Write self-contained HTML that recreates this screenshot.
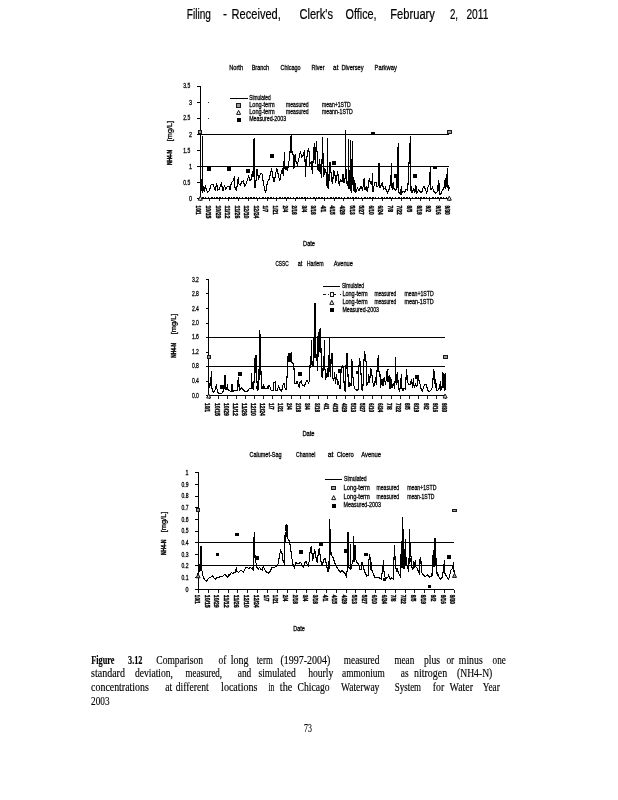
<!DOCTYPE html><html><head><meta charset="utf-8"><title>Figure 3.12</title>
<style>html,body{margin:0;padding:0;background:#fff}svg{display:block}text{font-family:"Liberation Sans",sans-serif;fill:#000}.c text{stroke:#000;stroke-width:0.28px}.c line,.c polyline,.c rect,.c path{shape-rendering:crispEdges}.s{font-family:"Liberation Serif",serif;stroke:#000;stroke-width:0.15px}</style></head><body>
<svg width="618" height="800" viewBox="0 0 618 800">
<rect width="618" height="800" fill="#fff"/>
<text x="186.8" y="19.1" font-size="14" textLength="24.1" lengthAdjust="spacingAndGlyphs" stroke="#000" stroke-width="0.2">Filing</text>
<text x="223.0" y="19.1" font-size="14" textLength="4.0" lengthAdjust="spacingAndGlyphs" stroke="#000" stroke-width="0.2">-</text>
<text x="231.6" y="19.1" font-size="14" textLength="49.2" lengthAdjust="spacingAndGlyphs" stroke="#000" stroke-width="0.2">Received,</text>
<text x="299.5" y="19.1" font-size="14" textLength="33.5" lengthAdjust="spacingAndGlyphs" stroke="#000" stroke-width="0.2">Clerk's</text>
<text x="345.5" y="19.1" font-size="14" textLength="31.1" lengthAdjust="spacingAndGlyphs" stroke="#000" stroke-width="0.2">Office,</text>
<text x="390.3" y="19.1" font-size="14" textLength="44.6" lengthAdjust="spacingAndGlyphs" stroke="#000" stroke-width="0.2">February</text>
<text x="449.9" y="19.1" font-size="14" textLength="8.1" lengthAdjust="spacingAndGlyphs" stroke="#000" stroke-width="0.2">2,</text>
<text x="466.4" y="19.1" font-size="14" textLength="22.0" lengthAdjust="spacingAndGlyphs" stroke="#000" stroke-width="0.2">2011</text>
<g class="c">
<text x="229.2" y="70.2" font-size="7.0" textLength="13.9" lengthAdjust="spacingAndGlyphs">North</text>
<text x="251.7" y="70.2" font-size="7.0" textLength="17.5" lengthAdjust="spacingAndGlyphs">Branch</text>
<text x="280.6" y="70.2" font-size="7.0" textLength="20.0" lengthAdjust="spacingAndGlyphs">Chicago</text>
<text x="311.6" y="70.2" font-size="7.0" textLength="12.9" lengthAdjust="spacingAndGlyphs">River</text>
<text x="333.1" y="70.2" font-size="7.0" textLength="5.3" lengthAdjust="spacingAndGlyphs">at</text>
<text x="341.4" y="70.2" font-size="7.0" textLength="22.2" lengthAdjust="spacingAndGlyphs">Diversey</text>
<text x="374.6" y="70.2" font-size="7.0" textLength="22.2" lengthAdjust="spacingAndGlyphs">Parkway</text>
<line x1="229.8" y1="98.5" x2="247.7" y2="98.5" stroke="#000" stroke-width="1"/>
<text x="249.2" y="100.0" font-size="7.0" textLength="21.5" lengthAdjust="spacingAndGlyphs">Simulated</text>
<text x="249.2" y="106.8" font-size="7.0" textLength="25.5" lengthAdjust="spacingAndGlyphs">Long-term</text>
<text x="286.1" y="106.8" font-size="7.0" textLength="22.4" lengthAdjust="spacingAndGlyphs">measured</text>
<text x="322.0" y="106.8" font-size="7.0" textLength="28.7" lengthAdjust="spacingAndGlyphs">mean+1STD</text>
<text x="249.2" y="114.0" font-size="7.0" textLength="25.5" lengthAdjust="spacingAndGlyphs">Long-term</text>
<text x="286.1" y="114.0" font-size="7.0" textLength="22.4" lengthAdjust="spacingAndGlyphs">measured</text>
<text x="322.0" y="114.0" font-size="7.0" textLength="30.8" lengthAdjust="spacingAndGlyphs">meann-1STD</text>
<text x="249.2" y="121.2" font-size="7.0" textLength="36.9" lengthAdjust="spacingAndGlyphs">Measured-2003</text>
<rect x="236" y="103" width="5" height="5" fill="#1a1a1a"/>
<rect x="237" y="104" width="3" height="3" fill="#9a9a9a"/>
<path d="M238.6 110.4L240.6 114.4H236.6Z" fill="#fff" stroke="#111" stroke-width="1" style="shape-rendering:auto"/>
<rect x="237" y="118" width="4" height="4" fill="#000"/>
<rect x="208" y="102" width="1" height="1" fill="#333"/><rect x="208" y="118" width="1" height="1" fill="#333"/>
<line x1="200.5" y1="86.3" x2="200.5" y2="198.4" stroke="#000" stroke-width="1"/>
<line x1="200.5" y1="198.4" x2="449.3" y2="198.4" stroke="#000" stroke-width="1"/>
<line x1="200.5" y1="134.4" x2="449.3" y2="134.4" stroke="#000" stroke-width="1"/>
<line x1="200.5" y1="166.5" x2="449.3" y2="166.5" stroke="#000" stroke-width="1"/>
<line x1="197.3" y1="86.3" x2="200.5" y2="86.3" stroke="#000" stroke-width="1"/>
<text x="183.2" y="88.4" font-size="6.8" textLength="7.0" lengthAdjust="spacingAndGlyphs">3.5</text>
<line x1="197.3" y1="102.3" x2="200.5" y2="102.3" stroke="#000" stroke-width="1"/>
<text x="189.1" y="105.1" font-size="6.8" textLength="3.0" lengthAdjust="spacingAndGlyphs">3</text>
<line x1="197.3" y1="118.3" x2="200.5" y2="118.3" stroke="#000" stroke-width="1"/>
<text x="183.2" y="120.4" font-size="6.8" textLength="7.0" lengthAdjust="spacingAndGlyphs">2.5</text>
<line x1="197.3" y1="134.4" x2="200.5" y2="134.4" stroke="#000" stroke-width="1"/>
<text x="189.1" y="137.2" font-size="6.8" textLength="3.0" lengthAdjust="spacingAndGlyphs">2</text>
<line x1="197.3" y1="150.4" x2="200.5" y2="150.4" stroke="#000" stroke-width="1"/>
<text x="183.2" y="152.5" font-size="6.8" textLength="7.0" lengthAdjust="spacingAndGlyphs">1.5</text>
<line x1="197.3" y1="166.5" x2="200.5" y2="166.5" stroke="#000" stroke-width="1"/>
<text x="189.1" y="169.3" font-size="6.8" textLength="3.0" lengthAdjust="spacingAndGlyphs">1</text>
<line x1="197.3" y1="182.4" x2="200.5" y2="182.4" stroke="#000" stroke-width="1"/>
<text x="183.2" y="184.5" font-size="6.8" textLength="7.0" lengthAdjust="spacingAndGlyphs">0.5</text>
<line x1="197.3" y1="198.4" x2="200.5" y2="198.4" stroke="#000" stroke-width="1"/>
<text x="189.1" y="201.2" font-size="6.8" textLength="3.0" lengthAdjust="spacingAndGlyphs">0</text>
<line x1="200.2" y1="198.4" x2="200.2" y2="201.4" stroke="#000" stroke-width="0.9"/>
<text transform="translate(196.4,205.5) rotate(90)" font-size="7.8" style="stroke-width:0.4px" textLength="9.2" lengthAdjust="spacingAndGlyphs" font-weight="bold">10/1</text>
<line x1="209.8" y1="198.4" x2="209.8" y2="201.4" stroke="#000" stroke-width="0.9"/>
<text transform="translate(206.0,205.5) rotate(90)" font-size="7.8" style="stroke-width:0.4px" textLength="12.9" lengthAdjust="spacingAndGlyphs" font-weight="bold">10/15</text>
<line x1="219.3" y1="198.4" x2="219.3" y2="201.4" stroke="#000" stroke-width="0.9"/>
<text transform="translate(215.5,205.5) rotate(90)" font-size="7.8" style="stroke-width:0.4px" textLength="12.9" lengthAdjust="spacingAndGlyphs" font-weight="bold">10/29</text>
<line x1="228.9" y1="198.4" x2="228.9" y2="201.4" stroke="#000" stroke-width="0.9"/>
<text transform="translate(225.1,205.5) rotate(90)" font-size="7.8" style="stroke-width:0.4px" textLength="12.9" lengthAdjust="spacingAndGlyphs" font-weight="bold">11/12</text>
<line x1="238.5" y1="198.4" x2="238.5" y2="201.4" stroke="#000" stroke-width="0.9"/>
<text transform="translate(234.7,205.5) rotate(90)" font-size="7.8" style="stroke-width:0.4px" textLength="12.9" lengthAdjust="spacingAndGlyphs" font-weight="bold">11/26</text>
<line x1="248.0" y1="198.4" x2="248.0" y2="201.4" stroke="#000" stroke-width="0.9"/>
<text transform="translate(244.2,205.5) rotate(90)" font-size="7.8" style="stroke-width:0.4px" textLength="12.9" lengthAdjust="spacingAndGlyphs" font-weight="bold">12/10</text>
<line x1="257.6" y1="198.4" x2="257.6" y2="201.4" stroke="#000" stroke-width="0.9"/>
<text transform="translate(253.8,205.5) rotate(90)" font-size="7.8" style="stroke-width:0.4px" textLength="12.9" lengthAdjust="spacingAndGlyphs" font-weight="bold">12/24</text>
<line x1="267.2" y1="198.4" x2="267.2" y2="201.4" stroke="#000" stroke-width="0.9"/>
<text transform="translate(263.4,205.5) rotate(90)" font-size="7.8" style="stroke-width:0.4px" textLength="6.6" lengthAdjust="spacingAndGlyphs" font-weight="bold">1/7</text>
<line x1="276.8" y1="198.4" x2="276.8" y2="201.4" stroke="#000" stroke-width="0.9"/>
<text transform="translate(273.0,205.5) rotate(90)" font-size="7.8" style="stroke-width:0.4px" textLength="9.2" lengthAdjust="spacingAndGlyphs" font-weight="bold">1/21</text>
<line x1="286.3" y1="198.4" x2="286.3" y2="201.4" stroke="#000" stroke-width="0.9"/>
<text transform="translate(282.5,205.5) rotate(90)" font-size="7.8" style="stroke-width:0.4px" textLength="6.6" lengthAdjust="spacingAndGlyphs" font-weight="bold">2/4</text>
<line x1="295.9" y1="198.4" x2="295.9" y2="201.4" stroke="#000" stroke-width="0.9"/>
<text transform="translate(292.1,205.5) rotate(90)" font-size="7.8" style="stroke-width:0.4px" textLength="9.2" lengthAdjust="spacingAndGlyphs" font-weight="bold">2/18</text>
<line x1="305.5" y1="198.4" x2="305.5" y2="201.4" stroke="#000" stroke-width="0.9"/>
<text transform="translate(301.7,205.5) rotate(90)" font-size="7.8" style="stroke-width:0.4px" textLength="6.6" lengthAdjust="spacingAndGlyphs" font-weight="bold">3/4</text>
<line x1="315.0" y1="198.4" x2="315.0" y2="201.4" stroke="#000" stroke-width="0.9"/>
<text transform="translate(311.2,205.5) rotate(90)" font-size="7.8" style="stroke-width:0.4px" textLength="9.2" lengthAdjust="spacingAndGlyphs" font-weight="bold">3/18</text>
<line x1="324.6" y1="198.4" x2="324.6" y2="201.4" stroke="#000" stroke-width="0.9"/>
<text transform="translate(320.8,205.5) rotate(90)" font-size="7.8" style="stroke-width:0.4px" textLength="6.6" lengthAdjust="spacingAndGlyphs" font-weight="bold">4/1</text>
<line x1="334.2" y1="198.4" x2="334.2" y2="201.4" stroke="#000" stroke-width="0.9"/>
<text transform="translate(330.4,205.5) rotate(90)" font-size="7.8" style="stroke-width:0.4px" textLength="9.2" lengthAdjust="spacingAndGlyphs" font-weight="bold">4/15</text>
<line x1="343.7" y1="198.4" x2="343.7" y2="201.4" stroke="#000" stroke-width="0.9"/>
<text transform="translate(339.9,205.5) rotate(90)" font-size="7.8" style="stroke-width:0.4px" textLength="9.2" lengthAdjust="spacingAndGlyphs" font-weight="bold">4/29</text>
<line x1="353.3" y1="198.4" x2="353.3" y2="201.4" stroke="#000" stroke-width="0.9"/>
<text transform="translate(349.5,205.5) rotate(90)" font-size="7.8" style="stroke-width:0.4px" textLength="9.2" lengthAdjust="spacingAndGlyphs" font-weight="bold">5/13</text>
<line x1="362.9" y1="198.4" x2="362.9" y2="201.4" stroke="#000" stroke-width="0.9"/>
<text transform="translate(359.1,205.5) rotate(90)" font-size="7.8" style="stroke-width:0.4px" textLength="9.2" lengthAdjust="spacingAndGlyphs" font-weight="bold">5/27</text>
<line x1="372.4" y1="198.4" x2="372.4" y2="201.4" stroke="#000" stroke-width="0.9"/>
<text transform="translate(368.6,205.5) rotate(90)" font-size="7.8" style="stroke-width:0.4px" textLength="9.2" lengthAdjust="spacingAndGlyphs" font-weight="bold">6/10</text>
<line x1="382.0" y1="198.4" x2="382.0" y2="201.4" stroke="#000" stroke-width="0.9"/>
<text transform="translate(378.2,205.5) rotate(90)" font-size="7.8" style="stroke-width:0.4px" textLength="9.2" lengthAdjust="spacingAndGlyphs" font-weight="bold">6/24</text>
<line x1="391.6" y1="198.4" x2="391.6" y2="201.4" stroke="#000" stroke-width="0.9"/>
<text transform="translate(387.8,205.5) rotate(90)" font-size="7.8" style="stroke-width:0.4px" textLength="6.6" lengthAdjust="spacingAndGlyphs" font-weight="bold">7/8</text>
<line x1="401.2" y1="198.4" x2="401.2" y2="201.4" stroke="#000" stroke-width="0.9"/>
<text transform="translate(397.4,205.5) rotate(90)" font-size="7.8" style="stroke-width:0.4px" textLength="9.2" lengthAdjust="spacingAndGlyphs" font-weight="bold">7/22</text>
<line x1="410.7" y1="198.4" x2="410.7" y2="201.4" stroke="#000" stroke-width="0.9"/>
<text transform="translate(406.9,205.5) rotate(90)" font-size="7.8" style="stroke-width:0.4px" textLength="6.6" lengthAdjust="spacingAndGlyphs" font-weight="bold">8/5</text>
<line x1="420.3" y1="198.4" x2="420.3" y2="201.4" stroke="#000" stroke-width="0.9"/>
<text transform="translate(416.5,205.5) rotate(90)" font-size="7.8" style="stroke-width:0.4px" textLength="9.2" lengthAdjust="spacingAndGlyphs" font-weight="bold">8/19</text>
<line x1="429.9" y1="198.4" x2="429.9" y2="201.4" stroke="#000" stroke-width="0.9"/>
<text transform="translate(426.1,205.5) rotate(90)" font-size="7.8" style="stroke-width:0.4px" textLength="6.6" lengthAdjust="spacingAndGlyphs" font-weight="bold">9/2</text>
<line x1="439.4" y1="198.4" x2="439.4" y2="201.4" stroke="#000" stroke-width="0.9"/>
<text transform="translate(435.6,205.5) rotate(90)" font-size="7.8" style="stroke-width:0.4px" textLength="9.2" lengthAdjust="spacingAndGlyphs" font-weight="bold">9/16</text>
<line x1="449.0" y1="198.4" x2="449.0" y2="201.4" stroke="#000" stroke-width="0.9"/>
<text transform="translate(445.2,205.5) rotate(90)" font-size="7.8" style="stroke-width:0.4px" textLength="9.2" lengthAdjust="spacingAndGlyphs" font-weight="bold">9/30</text>
<polyline points="200.3,190.1 200.7,190.1 201.2,178.7 202.0,191.2 202.3,190.1 202.4,136.3 202.5,192.2 202.8,192.2 203.8,186.0 204.3,192.2 205.3,185.0 206.4,190.1 207.9,192.2 209.5,190.7 211.0,185.0 213.1,184.4 215.2,190.1 216.7,183.4 217.7,190.1 219.3,189.1 221.4,183.4 223.1,191.2 224.5,185.0 225.5,189.1 227.1,187.0 229.1,186.5 230.2,190.1 231.2,182.9 233.3,180.8 234.5,176.2 234.8,187.0 236.4,191.2 238.3,177.2 238.7,183.9 240.5,185.0 241.6,181.9 243.1,180.8 244.7,186.0 246.2,183.9 247.8,178.7 248.8,175.6 249.3,180.8 250.9,179.8 252.4,173.0 253.0,176.7 253.5,139.4 254.5,138.4 255.0,187.5 256.0,180.8 257.0,169.4 258.6,178.7 260.7,173.6 262.2,174.1 263.2,181.9 264.8,190.1 265.8,192.2 267.4,181.9 268.9,179.8 270.5,173.6 271.5,168.4 272.6,175.6 274.1,182.4 275.7,173.6 276.7,168.4 278.3,174.6 279.8,181.3 281.4,171.5 282.4,169.4 283.4,175.6 284.5,152.3 285.0,169.4 286.0,166.3 287.6,171.0 288.6,162.2 289.7,158.6 290.7,137.3 291.5,134.7 292.0,152.9 293.3,154.9 293.8,169.4 295.1,154.4 295.9,161.1 297.4,164.2 299.0,158.0 300.5,151.3 301.6,157.0 303.1,155.4 304.7,150.3 305.5,176.7 306.2,162.2 307.8,150.8 308.6,148.2 309.3,153.9 309.9,164.2 311.4,162.2 312.4,173.6 313.5,152.3 314.5,143.5 315.2,164.2 316.4,140.9 317.1,152.9 318.1,170.5 319.7,159.1 319.1,171.5 319.6,159.1 320.7,172.5 321.7,177.7 322.5,137.3 323.2,160.1 323.8,176.7 324.8,168.4 326.4,173.6 327.2,188.1 327.4,138.4 328.2,188.6 328.9,181.9 329.8,162.2 330.5,163.7 331.5,180.8 332.6,183.4 333.6,170.5 334.6,171.5 335.7,182.9 337.7,171.5 338.3,177.7 339.3,186.0 340.3,179.8 341.9,181.9 343.1,173.6 344.0,182.9 345.0,178.7 345.4,178.7 345.5,130.1 345.7,169.4 346.6,169.4 347.1,185.0 347.9,185.5 348.2,186.0 348.4,139.4 348.6,188.1 349.1,188.6 350.0,188.6 350.2,140.4 350.4,190.1 351.0,191.2 351.4,159.1 351.8,191.2 352.1,159.1 352.2,141.5 352.5,159.1 352.8,177.7 353.3,191.2 353.8,176.7 354.3,191.7 354.8,179.8 355.4,192.2 355.9,192.2 357.4,188.1 359.0,190.7 361.0,186.5 362.6,190.1 364.2,178.2 364.7,190.1 366.2,187.0 367.3,192.2 369.3,178.2 370.4,182.9 371.9,184.4 372.4,173.0 373.0,192.2 374.5,182.9 376.1,182.4 377.1,187.0 378.1,186.0 378.7,163.7 379.4,163.7 378.6,163.7 379.4,163.7 379.9,188.1 381.2,185.0 382.2,183.4 383.8,189.1 385.3,187.5 386.4,190.7 387.4,192.7 388.9,190.1 390.0,185.5 391.0,176.7 391.5,163.2 392.1,190.1 393.1,182.4 394.1,189.1 395.7,190.1 397.0,188.1 397.3,147.2 397.7,179.8 398.3,143.0 398.6,192.2 400.3,194.3 401.4,186.5 401.9,193.2 403.4,191.2 404.5,192.2 406.0,189.6 407.6,190.1 408.6,175.6 409.3,154.4 410.5,136.3 411.0,191.2 412.2,192.7 413.8,188.6 414.8,192.7 415.9,185.5 416.9,192.7 418.5,190.1 420.0,191.7 421.6,192.7 423.1,187.5 424.2,186.5 425.7,190.1 426.7,192.7 428.3,186.0 429.3,184.4 430.4,166.8 430.9,190.1 432.4,187.0 434.0,191.7 435.5,193.2 437.6,191.7 438.4,180.3 439.2,193.2 438.3,180.3 439.1,183.9 439.9,194.3 441.2,193.8 442.2,190.1 443.8,189.1 444.8,179.8 445.3,189.1 445.8,177.7 446.4,187.0 446.9,176.7 447.4,167.9 447.9,186.0 448.4,191.2 448.9,186.5 450.0,189.1" fill="none" stroke="#000" stroke-width="1.10" stroke-linejoin="miter"/>
<rect x="207" y="167" width="4" height="4" fill="#000"/>
<rect x="227" y="167" width="4" height="4" fill="#000"/>
<rect x="246" y="169" width="4" height="4" fill="#000"/>
<rect x="270" y="154" width="4" height="4" fill="#000"/>
<rect x="332" y="161" width="4" height="4" fill="#000"/>
<rect x="394" y="174" width="4" height="4" fill="#000"/>
<rect x="413" y="174" width="4" height="4" fill="#000"/>
<rect x="371" y="132" width="4" height="3" fill="#000"/>
<rect x="433" y="166" width="4" height="3" fill="#000"/>
<rect x="198" y="130" width="4" height="4" fill="#1a1a1a"/>
<rect x="199" y="131" width="2" height="2" fill="#9a9a9a"/>
<rect x="447" y="130" width="5" height="4" fill="#1a1a1a"/>
<rect x="448" y="131" width="3" height="2" fill="#9a9a9a"/>
<path d="M200.3 196.2L202.3 200.2H198.3Z" fill="#fff" stroke="#111" stroke-width="1" style="shape-rendering:auto"/>
<path d="M449.3 196.2L451.3 200.2H447.3Z" fill="#fff" stroke="#111" stroke-width="1" style="shape-rendering:auto"/>
<text x="303.1" y="246.0" font-size="7.0" textLength="11.9" lengthAdjust="spacingAndGlyphs">Date</text>
<text transform="translate(172.2,165.1) rotate(-90)" font-size="7.6" font-weight="bold" style="stroke-width:0.45px" textLength="15.2" lengthAdjust="spacingAndGlyphs">NH4-N</text>
<text transform="translate(172.2,141.2) rotate(-90)" font-size="7.6" textLength="20.3" lengthAdjust="spacingAndGlyphs">[mg/L]</text>
<line x1="202" y1="197.5" x2="449" y2="197.5" stroke="#000" stroke-width="1" stroke-dasharray="2.4 1 1 1.2 1.6 1.3"/>
<text x="275.4" y="265.5" font-size="7.0" textLength="13.2" lengthAdjust="spacingAndGlyphs">CSSC</text>
<text x="297.8" y="265.5" font-size="7.0" textLength="4.6" lengthAdjust="spacingAndGlyphs">at</text>
<text x="306.7" y="265.5" font-size="7.0" textLength="16.9" lengthAdjust="spacingAndGlyphs">Harlem</text>
<text x="333.8" y="265.5" font-size="7.0" textLength="19.0" lengthAdjust="spacingAndGlyphs">Avenue</text>
<line x1="323" y1="286.5" x2="339.9" y2="286.5" stroke="#000" stroke-width="1"/>
<text x="341.9" y="287.9" font-size="7.0" textLength="22.2" lengthAdjust="spacingAndGlyphs">Simulated</text>
<text x="342.4" y="295.5" font-size="7.0" textLength="25.2" lengthAdjust="spacingAndGlyphs">Long-term</text>
<text x="374.4" y="295.5" font-size="7.0" textLength="21.8" lengthAdjust="spacingAndGlyphs">measured</text>
<text x="404.5" y="295.5" font-size="7.0" textLength="29.2" lengthAdjust="spacingAndGlyphs">mean+1STD</text>
<text x="342.4" y="303.9" font-size="7.0" textLength="25.2" lengthAdjust="spacingAndGlyphs">Long-term</text>
<text x="374.4" y="303.9" font-size="7.0" textLength="21.8" lengthAdjust="spacingAndGlyphs">measured</text>
<text x="404.5" y="303.9" font-size="7.0" textLength="29.2" lengthAdjust="spacingAndGlyphs">mean-1STD</text>
<text x="342.4" y="311.5" font-size="7.0" textLength="36.6" lengthAdjust="spacingAndGlyphs">Measured-2003</text>
<path d="M323 294.5h2.6M328 294.5h1M334 294.5h2.2M340 294.5h1" stroke="#000" stroke-width="0.9"/>
<rect x="330" y="292" width="4" height="5" fill="#1a1a1a"/>
<rect x="331" y="293" width="2" height="3" fill="#fff"/>
<path d="M331.8 300.4L333.8 304.4H329.8Z" fill="#fff" stroke="#111" stroke-width="1" style="shape-rendering:auto"/>
<rect x="330" y="308" width="4" height="4" fill="#000"/>
<line x1="208.5" y1="279.4" x2="208.5" y2="395.6" stroke="#000" stroke-width="1"/>
<line x1="208.5" y1="395.6" x2="444.8" y2="395.6" stroke="#000" stroke-width="1"/>
<line x1="208.5" y1="337.3" x2="444.8" y2="337.3" stroke="#000" stroke-width="1"/>
<line x1="208.5" y1="366.3" x2="444.8" y2="366.3" stroke="#000" stroke-width="1"/>
<line x1="205.5" y1="279.4" x2="208.5" y2="279.4" stroke="#000" stroke-width="1"/>
<text x="191.9" y="281.5" font-size="6.8" textLength="7.0" lengthAdjust="spacingAndGlyphs">3.2</text>
<line x1="205.5" y1="293.9" x2="208.5" y2="293.9" stroke="#000" stroke-width="1"/>
<text x="191.9" y="296.0" font-size="6.8" textLength="7.0" lengthAdjust="spacingAndGlyphs">2.8</text>
<line x1="205.5" y1="308.4" x2="208.5" y2="308.4" stroke="#000" stroke-width="1"/>
<text x="191.9" y="310.6" font-size="6.8" textLength="7.0" lengthAdjust="spacingAndGlyphs">2.4</text>
<line x1="205.5" y1="323.0" x2="208.5" y2="323.0" stroke="#000" stroke-width="1"/>
<text x="191.9" y="325.1" font-size="6.8" textLength="7.0" lengthAdjust="spacingAndGlyphs">2.0</text>
<line x1="205.5" y1="337.3" x2="208.5" y2="337.3" stroke="#000" stroke-width="1"/>
<text x="191.9" y="339.4" font-size="6.8" textLength="7.0" lengthAdjust="spacingAndGlyphs">1.6</text>
<line x1="205.5" y1="352.0" x2="208.5" y2="352.0" stroke="#000" stroke-width="1"/>
<text x="191.9" y="354.1" font-size="6.8" textLength="7.0" lengthAdjust="spacingAndGlyphs">1.2</text>
<line x1="205.5" y1="366.3" x2="208.5" y2="366.3" stroke="#000" stroke-width="1"/>
<text x="191.9" y="368.4" font-size="6.8" textLength="7.0" lengthAdjust="spacingAndGlyphs">0.8</text>
<line x1="205.5" y1="381.1" x2="208.5" y2="381.1" stroke="#000" stroke-width="1"/>
<text x="191.9" y="383.2" font-size="6.8" textLength="7.0" lengthAdjust="spacingAndGlyphs">0.4</text>
<line x1="205.5" y1="395.6" x2="208.5" y2="395.6" stroke="#000" stroke-width="1"/>
<text x="191.9" y="397.7" font-size="6.8" textLength="7.0" lengthAdjust="spacingAndGlyphs">0.0</text>
<line x1="209.2" y1="395.6" x2="209.2" y2="398.6" stroke="#000" stroke-width="0.9"/>
<text transform="translate(205.4,403.0) rotate(90)" font-size="7.8" style="stroke-width:0.4px" textLength="9.2" lengthAdjust="spacingAndGlyphs" font-weight="bold">10/1</text>
<line x1="218.3" y1="395.6" x2="218.3" y2="398.6" stroke="#000" stroke-width="0.9"/>
<text transform="translate(214.5,403.0) rotate(90)" font-size="7.8" style="stroke-width:0.4px" textLength="12.9" lengthAdjust="spacingAndGlyphs" font-weight="bold">10/15</text>
<line x1="227.4" y1="395.6" x2="227.4" y2="398.6" stroke="#000" stroke-width="0.9"/>
<text transform="translate(223.6,403.0) rotate(90)" font-size="7.8" style="stroke-width:0.4px" textLength="12.9" lengthAdjust="spacingAndGlyphs" font-weight="bold">10/29</text>
<line x1="236.5" y1="395.6" x2="236.5" y2="398.6" stroke="#000" stroke-width="0.9"/>
<text transform="translate(232.7,403.0) rotate(90)" font-size="7.8" style="stroke-width:0.4px" textLength="12.9" lengthAdjust="spacingAndGlyphs" font-weight="bold">11/12</text>
<line x1="245.6" y1="395.6" x2="245.6" y2="398.6" stroke="#000" stroke-width="0.9"/>
<text transform="translate(241.8,403.0) rotate(90)" font-size="7.8" style="stroke-width:0.4px" textLength="12.9" lengthAdjust="spacingAndGlyphs" font-weight="bold">11/26</text>
<line x1="254.6" y1="395.6" x2="254.6" y2="398.6" stroke="#000" stroke-width="0.9"/>
<text transform="translate(250.8,403.0) rotate(90)" font-size="7.8" style="stroke-width:0.4px" textLength="12.9" lengthAdjust="spacingAndGlyphs" font-weight="bold">12/10</text>
<line x1="263.7" y1="395.6" x2="263.7" y2="398.6" stroke="#000" stroke-width="0.9"/>
<text transform="translate(259.9,403.0) rotate(90)" font-size="7.8" style="stroke-width:0.4px" textLength="12.9" lengthAdjust="spacingAndGlyphs" font-weight="bold">12/24</text>
<line x1="272.8" y1="395.6" x2="272.8" y2="398.6" stroke="#000" stroke-width="0.9"/>
<text transform="translate(269.0,403.0) rotate(90)" font-size="7.8" style="stroke-width:0.4px" textLength="6.6" lengthAdjust="spacingAndGlyphs" font-weight="bold">1/7</text>
<line x1="281.9" y1="395.6" x2="281.9" y2="398.6" stroke="#000" stroke-width="0.9"/>
<text transform="translate(278.1,403.0) rotate(90)" font-size="7.8" style="stroke-width:0.4px" textLength="9.2" lengthAdjust="spacingAndGlyphs" font-weight="bold">1/21</text>
<line x1="291.0" y1="395.6" x2="291.0" y2="398.6" stroke="#000" stroke-width="0.9"/>
<text transform="translate(287.2,403.0) rotate(90)" font-size="7.8" style="stroke-width:0.4px" textLength="6.6" lengthAdjust="spacingAndGlyphs" font-weight="bold">2/4</text>
<line x1="300.1" y1="395.6" x2="300.1" y2="398.6" stroke="#000" stroke-width="0.9"/>
<text transform="translate(296.3,403.0) rotate(90)" font-size="7.8" style="stroke-width:0.4px" textLength="9.2" lengthAdjust="spacingAndGlyphs" font-weight="bold">2/18</text>
<line x1="309.2" y1="395.6" x2="309.2" y2="398.6" stroke="#000" stroke-width="0.9"/>
<text transform="translate(305.4,403.0) rotate(90)" font-size="7.8" style="stroke-width:0.4px" textLength="6.6" lengthAdjust="spacingAndGlyphs" font-weight="bold">3/4</text>
<line x1="318.3" y1="395.6" x2="318.3" y2="398.6" stroke="#000" stroke-width="0.9"/>
<text transform="translate(314.5,403.0) rotate(90)" font-size="7.8" style="stroke-width:0.4px" textLength="9.2" lengthAdjust="spacingAndGlyphs" font-weight="bold">3/18</text>
<line x1="327.3" y1="395.6" x2="327.3" y2="398.6" stroke="#000" stroke-width="0.9"/>
<text transform="translate(323.5,403.0) rotate(90)" font-size="7.8" style="stroke-width:0.4px" textLength="6.6" lengthAdjust="spacingAndGlyphs" font-weight="bold">4/1</text>
<line x1="336.4" y1="395.6" x2="336.4" y2="398.6" stroke="#000" stroke-width="0.9"/>
<text transform="translate(332.6,403.0) rotate(90)" font-size="7.8" style="stroke-width:0.4px" textLength="9.2" lengthAdjust="spacingAndGlyphs" font-weight="bold">4/15</text>
<line x1="345.5" y1="395.6" x2="345.5" y2="398.6" stroke="#000" stroke-width="0.9"/>
<text transform="translate(341.7,403.0) rotate(90)" font-size="7.8" style="stroke-width:0.4px" textLength="9.2" lengthAdjust="spacingAndGlyphs" font-weight="bold">4/29</text>
<line x1="354.6" y1="395.6" x2="354.6" y2="398.6" stroke="#000" stroke-width="0.9"/>
<text transform="translate(350.8,403.0) rotate(90)" font-size="7.8" style="stroke-width:0.4px" textLength="9.2" lengthAdjust="spacingAndGlyphs" font-weight="bold">5/13</text>
<line x1="363.7" y1="395.6" x2="363.7" y2="398.6" stroke="#000" stroke-width="0.9"/>
<text transform="translate(359.9,403.0) rotate(90)" font-size="7.8" style="stroke-width:0.4px" textLength="9.2" lengthAdjust="spacingAndGlyphs" font-weight="bold">5/27</text>
<line x1="372.8" y1="395.6" x2="372.8" y2="398.6" stroke="#000" stroke-width="0.9"/>
<text transform="translate(369.0,403.0) rotate(90)" font-size="7.8" style="stroke-width:0.4px" textLength="9.2" lengthAdjust="spacingAndGlyphs" font-weight="bold">6/10</text>
<line x1="381.9" y1="395.6" x2="381.9" y2="398.6" stroke="#000" stroke-width="0.9"/>
<text transform="translate(378.1,403.0) rotate(90)" font-size="7.8" style="stroke-width:0.4px" textLength="9.2" lengthAdjust="spacingAndGlyphs" font-weight="bold">6/24</text>
<line x1="391.0" y1="395.6" x2="391.0" y2="398.6" stroke="#000" stroke-width="0.9"/>
<text transform="translate(387.2,403.0) rotate(90)" font-size="7.8" style="stroke-width:0.4px" textLength="6.6" lengthAdjust="spacingAndGlyphs" font-weight="bold">7/8</text>
<line x1="400.1" y1="395.6" x2="400.1" y2="398.6" stroke="#000" stroke-width="0.9"/>
<text transform="translate(396.3,403.0) rotate(90)" font-size="7.8" style="stroke-width:0.4px" textLength="9.2" lengthAdjust="spacingAndGlyphs" font-weight="bold">7/22</text>
<line x1="409.1" y1="395.6" x2="409.1" y2="398.6" stroke="#000" stroke-width="0.9"/>
<text transform="translate(405.3,403.0) rotate(90)" font-size="7.8" style="stroke-width:0.4px" textLength="6.6" lengthAdjust="spacingAndGlyphs" font-weight="bold">8/5</text>
<line x1="418.2" y1="395.6" x2="418.2" y2="398.6" stroke="#000" stroke-width="0.9"/>
<text transform="translate(414.4,403.0) rotate(90)" font-size="7.8" style="stroke-width:0.4px" textLength="9.2" lengthAdjust="spacingAndGlyphs" font-weight="bold">8/19</text>
<line x1="427.3" y1="395.6" x2="427.3" y2="398.6" stroke="#000" stroke-width="0.9"/>
<text transform="translate(423.5,403.0) rotate(90)" font-size="7.8" style="stroke-width:0.4px" textLength="6.6" lengthAdjust="spacingAndGlyphs" font-weight="bold">9/2</text>
<line x1="436.4" y1="395.6" x2="436.4" y2="398.6" stroke="#000" stroke-width="0.9"/>
<text transform="translate(432.6,403.0) rotate(90)" font-size="7.8" style="stroke-width:0.4px" textLength="9.2" lengthAdjust="spacingAndGlyphs" font-weight="bold">9/16</text>
<line x1="445.5" y1="395.6" x2="445.5" y2="398.6" stroke="#000" stroke-width="0.9"/>
<text transform="translate(441.7,403.0) rotate(90)" font-size="7.8" style="stroke-width:0.4px" textLength="9.2" lengthAdjust="spacingAndGlyphs" font-weight="bold">9/30</text>
<polyline points="208.3,384.0 208.7,381.9 209.7,388.1 210.7,381.9 211.5,371.0 211.9,388.1 213.3,392.3 214.9,390.7 216.4,384.5 217.5,392.3 219.5,393.8 221.6,393.3 223.7,390.7 224.7,375.2 225.5,375.2 226.0,390.2 227.3,386.1 228.3,390.7 231.1,391.2 231.4,384.5 232.2,384.5 232.8,391.2 235.1,390.7 237.1,390.2 237.7,382.4 238.7,377.3 239.2,390.2 241.8,387.6 243.9,390.7 245.4,391.8 247.5,391.2 249.6,388.1 251.1,388.1 251.6,373.1 252.2,388.1 253.7,389.2 254.2,377.8 254.4,361.2 254.7,372.6 255.1,356.0 255.5,372.6 255.8,355.5 256.1,372.6 256.3,355.5 256.6,372.6 257.0,382.4 257.9,389.7 258.9,388.1 259.4,330.1 260.4,336.4 261.0,373.6 262.0,388.7 263.5,385.5 265.1,388.7 268.0,388.7 268.1,385.5 269.7,386.1 271.2,390.7 273.3,390.7 273.8,382.4 275.2,381.9 275.9,390.2 277.5,390.2 278.5,386.1 279.5,388.7 281.6,391.2 283.2,384.0 284.2,383.5 285.2,389.2 286.3,389.2 286.8,381.9 287.6,363.8 288.0,357.1 288.3,353.4 288.6,361.7 289.0,353.1 289.3,361.7 289.6,353.1 289.9,361.7 290.2,352.9 290.5,361.7 290.8,352.7 291.1,361.7 291.4,352.4 291.8,362.2 292.2,362.2 292.6,362.8 293.0,363.3 293.3,367.4 293.7,365.4 294.0,369.0 294.3,369.0 294.9,383.5 296.1,383.5 297.1,381.4 299.2,387.1 300.0,382.4 301.1,380.9 302.3,385.0 304.4,386.1 306.5,380.9 307.5,380.4 308.7,384.0 309.6,378.8 310.3,357.1 310.6,365.4 310.9,356.0 311.3,365.4 311.6,340.5 311.9,365.4 312.4,361.2 312.9,365.4 313.5,365.4 314.0,357.1 314.2,302.7 314.5,357.1 314.8,302.7 315.2,357.1 315.6,302.7 315.8,357.1 316.1,357.1 316.4,361.2 316.8,354.0 317.2,361.2 317.3,370.5 317.6,357.1 317.9,336.4 318.3,357.1 318.6,332.2 319.0,351.9 319.4,329.1 319.8,346.7 320.2,327.6 320.8,341.5 321.6,375.7 322.7,378.3 323.1,367.4 323.5,356.0 323.9,367.4 324.3,357.1 324.6,340.5 324.9,367.4 325.6,379.9 326.1,375.7 326.7,377.8 327.4,368.5 328.0,367.9 327.1,376.7 327.6,368.5 328.3,376.7 329.0,358.1 329.5,337.4 330.0,371.6 330.7,376.7 331.2,353.4 332.3,354.0 332.8,378.8 333.8,380.4 334.6,372.1 335.4,384.0 336.4,373.6 337.5,384.0 338.5,381.9 339.5,388.1 340.4,388.1 340.8,372.6 341.6,369.5 342.4,365.4 343.5,369.5 344.0,381.9 344.7,390.2 345.5,391.2 346.3,353.4 347.6,353.4 348.0,375.7 348.9,387.1 349.9,382.4 351.1,386.1 351.4,359.1 352.5,363.3 353.0,377.8 354.0,386.1 355.1,389.2 357.1,390.2 358.2,389.7 358.7,371.6 359.5,358.1 360.5,364.3 361.1,375.7 361.8,389.2 362.8,390.2 363.7,367.4 364.4,351.4 365.4,356.0 366.3,364.3 366.7,385.0 368.0,383.0 368.5,373.6 369.6,383.0 370.6,368.5 371.6,369.5 372.2,377.8 373.5,386.1 374.7,385.0 375.5,376.7 376.3,385.0 377.3,365.4 378.4,355.5 378.9,371.6 379.9,371.6 380.4,388.1 382.0,378.8 383.0,385.5 384.1,377.3 385.6,385.0 387.2,369.5 388.0,369.5 387.1,381.9 387.6,369.0 388.3,381.9 389.4,375.2 390.0,389.2 390.7,376.7 391.8,388.1 392.8,385.0 393.8,383.5 394.4,389.2 395.2,379.9 395.6,357.1 396.1,379.9 396.9,385.0 397.5,372.1 398.3,386.1 399.5,392.3 400.6,384.0 401.4,374.2 401.8,388.1 403.2,390.7 404.2,388.1 405.7,389.2 406.3,369.0 407.3,378.8 408.3,384.5 409.9,385.0 411.4,379.3 412.5,387.6 413.5,378.3 414.2,388.1 415.6,384.0 416.9,387.1 417.7,375.7 418.7,379.9 419.7,382.4 420.8,388.1 422.3,391.2 423.4,388.1 424.4,385.0 426.5,384.5 427.5,390.2 429.6,391.8 431.6,389.2 432.7,386.1 433.5,369.0 434.5,373.1 435.3,388.1 435.8,378.8 436.3,390.7 437.9,390.2 439.4,388.1 440.4,381.4 441.0,390.2 442.0,388.1 442.5,372.1 443.2,388.1 443.9,372.6 444.6,391.2 445.6,373.1 445.9,390.2" fill="none" stroke="#000" stroke-width="1.10" stroke-linejoin="miter"/>
<rect x="238" y="372" width="4" height="4" fill="#000"/>
<rect x="298" y="372" width="4" height="4" fill="#000"/>
<rect x="338" y="369" width="4" height="4" fill="#000"/>
<rect x="415" y="375" width="4" height="4" fill="#000"/>
<rect x="256" y="386" width="3" height="3" fill="#000"/>
<rect x="262" y="386" width="3" height="3" fill="#000"/>
<rect x="356" y="371" width="3" height="3" fill="#000"/>
<rect x="207" y="355" width="4" height="4" fill="#1a1a1a"/>
<rect x="208" y="356" width="2" height="2" fill="#9a9a9a"/>
<rect x="443" y="355" width="5" height="4" fill="#1a1a1a"/>
<rect x="444" y="356" width="3" height="2" fill="#9a9a9a"/>
<path d="M208.7 394.0L210.7 398.0H206.7Z" fill="#fff" stroke="#111" stroke-width="1" style="shape-rendering:auto"/>
<path d="M445.1 394.0L447.1 398.0H443.1Z" fill="#fff" stroke="#111" stroke-width="1" style="shape-rendering:auto"/>
<text x="302.4" y="436.3" font-size="7.0" textLength="12.2" lengthAdjust="spacingAndGlyphs">Date</text>
<text transform="translate(176.0,357.8) rotate(-90)" font-size="7.6" font-weight="bold" style="stroke-width:0.45px" textLength="14.8" lengthAdjust="spacingAndGlyphs">NH4-N</text>
<text transform="translate(176.0,334.3) rotate(-90)" font-size="7.6" textLength="20.7" lengthAdjust="spacingAndGlyphs">[mg/L]</text>
<rect x="220" y="385" width="5" height="4" fill="#000"/>
<text x="249.5" y="456.6" font-size="7.0" textLength="32.0" lengthAdjust="spacingAndGlyphs">Calumet-Sag</text>
<text x="296.1" y="456.6" font-size="7.0" textLength="19.3" lengthAdjust="spacingAndGlyphs">Channel</text>
<text x="327.7" y="456.6" font-size="7.0" textLength="5.7" lengthAdjust="spacingAndGlyphs">at</text>
<text x="336.8" y="456.6" font-size="7.0" textLength="17.0" lengthAdjust="spacingAndGlyphs">Cicero</text>
<text x="361.3" y="456.6" font-size="7.0" textLength="19.7" lengthAdjust="spacingAndGlyphs">Avenue</text>
<line x1="324.9" y1="479.5" x2="341.9" y2="479.5" stroke="#000" stroke-width="1"/>
<text x="344.0" y="481.3" font-size="7.0" textLength="22.6" lengthAdjust="spacingAndGlyphs">Simulated</text>
<text x="343.6" y="489.8" font-size="7.0" textLength="26.2" lengthAdjust="spacingAndGlyphs">Long-term</text>
<text x="376.6" y="489.8" font-size="7.0" textLength="22.4" lengthAdjust="spacingAndGlyphs">measured</text>
<text x="407.2" y="489.8" font-size="7.0" textLength="29.2" lengthAdjust="spacingAndGlyphs">mean+1STD</text>
<text x="343.6" y="499.3" font-size="7.0" textLength="26.2" lengthAdjust="spacingAndGlyphs">Long-term</text>
<text x="376.6" y="499.3" font-size="7.0" textLength="22.4" lengthAdjust="spacingAndGlyphs">measured</text>
<text x="407.2" y="499.3" font-size="7.0" textLength="27.2" lengthAdjust="spacingAndGlyphs">mean-1STD</text>
<text x="343.6" y="506.5" font-size="7.0" textLength="37.4" lengthAdjust="spacingAndGlyphs">Measured-2003</text>
<rect x="331" y="486" width="5" height="4" fill="#1a1a1a"/>
<rect x="332" y="487" width="3" height="2" fill="#9a9a9a"/>
<path d="M333.7 495.6L335.7 499.6H331.7Z" fill="#fff" stroke="#111" stroke-width="1" style="shape-rendering:auto"/>
<rect x="332" y="504" width="4" height="4" fill="#000"/>
<line x1="198.5" y1="472.8" x2="198.5" y2="589.5" stroke="#000" stroke-width="1"/>
<line x1="198.5" y1="589.5" x2="454.2" y2="589.5" stroke="#000" stroke-width="1"/>
<line x1="198.5" y1="542.6" x2="454.2" y2="542.6" stroke="#000" stroke-width="1"/>
<line x1="198.5" y1="565.5" x2="454.2" y2="565.5" stroke="#000" stroke-width="1"/>
<line x1="195.3" y1="472.8" x2="198.5" y2="472.8" stroke="#000" stroke-width="1"/>
<text x="185.5" y="474.9" font-size="6.8" textLength="3.0" lengthAdjust="spacingAndGlyphs">1</text>
<line x1="195.3" y1="484.5" x2="198.5" y2="484.5" stroke="#000" stroke-width="1"/>
<text x="181.5" y="486.6" font-size="6.8" textLength="7.0" lengthAdjust="spacingAndGlyphs">0.9</text>
<line x1="195.3" y1="496.1" x2="198.5" y2="496.1" stroke="#000" stroke-width="1"/>
<text x="181.5" y="498.2" font-size="6.8" textLength="7.0" lengthAdjust="spacingAndGlyphs">0.8</text>
<line x1="195.3" y1="507.8" x2="198.5" y2="507.8" stroke="#000" stroke-width="1"/>
<text x="181.5" y="509.9" font-size="6.8" textLength="7.0" lengthAdjust="spacingAndGlyphs">0.7</text>
<line x1="195.3" y1="519.5" x2="198.5" y2="519.5" stroke="#000" stroke-width="1"/>
<text x="181.5" y="521.6" font-size="6.8" textLength="7.0" lengthAdjust="spacingAndGlyphs">0.6</text>
<line x1="195.3" y1="531.1" x2="198.5" y2="531.1" stroke="#000" stroke-width="1"/>
<text x="181.5" y="533.2" font-size="6.8" textLength="7.0" lengthAdjust="spacingAndGlyphs">0.5</text>
<line x1="195.3" y1="542.6" x2="198.5" y2="542.6" stroke="#000" stroke-width="1"/>
<text x="181.5" y="544.7" font-size="6.8" textLength="7.0" lengthAdjust="spacingAndGlyphs">0.4</text>
<line x1="195.3" y1="554.5" x2="198.5" y2="554.5" stroke="#000" stroke-width="1"/>
<text x="181.5" y="556.6" font-size="6.8" textLength="7.0" lengthAdjust="spacingAndGlyphs">0.3</text>
<line x1="195.3" y1="565.5" x2="198.5" y2="565.5" stroke="#000" stroke-width="1"/>
<text x="181.5" y="567.6" font-size="6.8" textLength="7.0" lengthAdjust="spacingAndGlyphs">0.2</text>
<line x1="195.3" y1="577.8" x2="198.5" y2="577.8" stroke="#000" stroke-width="1"/>
<text x="181.5" y="579.9" font-size="6.8" textLength="7.0" lengthAdjust="spacingAndGlyphs">0.1</text>
<line x1="195.3" y1="589.5" x2="198.5" y2="589.5" stroke="#000" stroke-width="1"/>
<text x="185.5" y="591.6" font-size="6.8" textLength="3.0" lengthAdjust="spacingAndGlyphs">0</text>
<line x1="198.5" y1="589.5" x2="198.5" y2="592.5" stroke="#000" stroke-width="0.9"/>
<text transform="translate(194.7,594.8) rotate(90)" font-size="7.8" style="stroke-width:0.4px" textLength="9.2" lengthAdjust="spacingAndGlyphs" font-weight="bold">10/1</text>
<line x1="208.3" y1="589.5" x2="208.3" y2="592.5" stroke="#000" stroke-width="0.9"/>
<text transform="translate(204.5,594.8) rotate(90)" font-size="7.8" style="stroke-width:0.4px" textLength="12.9" lengthAdjust="spacingAndGlyphs" font-weight="bold">10/15</text>
<line x1="218.2" y1="589.5" x2="218.2" y2="592.5" stroke="#000" stroke-width="0.9"/>
<text transform="translate(214.4,594.8) rotate(90)" font-size="7.8" style="stroke-width:0.4px" textLength="12.9" lengthAdjust="spacingAndGlyphs" font-weight="bold">10/29</text>
<line x1="228.0" y1="589.5" x2="228.0" y2="592.5" stroke="#000" stroke-width="0.9"/>
<text transform="translate(224.2,594.8) rotate(90)" font-size="7.8" style="stroke-width:0.4px" textLength="12.9" lengthAdjust="spacingAndGlyphs" font-weight="bold">11/12</text>
<line x1="237.8" y1="589.5" x2="237.8" y2="592.5" stroke="#000" stroke-width="0.9"/>
<text transform="translate(234.0,594.8) rotate(90)" font-size="7.8" style="stroke-width:0.4px" textLength="12.9" lengthAdjust="spacingAndGlyphs" font-weight="bold">11/26</text>
<line x1="247.7" y1="589.5" x2="247.7" y2="592.5" stroke="#000" stroke-width="0.9"/>
<text transform="translate(243.9,594.8) rotate(90)" font-size="7.8" style="stroke-width:0.4px" textLength="12.9" lengthAdjust="spacingAndGlyphs" font-weight="bold">12/10</text>
<line x1="257.5" y1="589.5" x2="257.5" y2="592.5" stroke="#000" stroke-width="0.9"/>
<text transform="translate(253.7,594.8) rotate(90)" font-size="7.8" style="stroke-width:0.4px" textLength="12.9" lengthAdjust="spacingAndGlyphs" font-weight="bold">12/24</text>
<line x1="267.3" y1="589.5" x2="267.3" y2="592.5" stroke="#000" stroke-width="0.9"/>
<text transform="translate(263.5,594.8) rotate(90)" font-size="7.8" style="stroke-width:0.4px" textLength="6.6" lengthAdjust="spacingAndGlyphs" font-weight="bold">1/7</text>
<line x1="277.2" y1="589.5" x2="277.2" y2="592.5" stroke="#000" stroke-width="0.9"/>
<text transform="translate(273.4,594.8) rotate(90)" font-size="7.8" style="stroke-width:0.4px" textLength="9.2" lengthAdjust="spacingAndGlyphs" font-weight="bold">1/21</text>
<line x1="287.0" y1="589.5" x2="287.0" y2="592.5" stroke="#000" stroke-width="0.9"/>
<text transform="translate(283.2,594.8) rotate(90)" font-size="7.8" style="stroke-width:0.4px" textLength="6.6" lengthAdjust="spacingAndGlyphs" font-weight="bold">2/4</text>
<line x1="296.8" y1="589.5" x2="296.8" y2="592.5" stroke="#000" stroke-width="0.9"/>
<text transform="translate(293.0,594.8) rotate(90)" font-size="7.8" style="stroke-width:0.4px" textLength="9.2" lengthAdjust="spacingAndGlyphs" font-weight="bold">2/18</text>
<line x1="306.7" y1="589.5" x2="306.7" y2="592.5" stroke="#000" stroke-width="0.9"/>
<text transform="translate(302.9,594.8) rotate(90)" font-size="7.8" style="stroke-width:0.4px" textLength="6.6" lengthAdjust="spacingAndGlyphs" font-weight="bold">3/4</text>
<line x1="316.5" y1="589.5" x2="316.5" y2="592.5" stroke="#000" stroke-width="0.9"/>
<text transform="translate(312.7,594.8) rotate(90)" font-size="7.8" style="stroke-width:0.4px" textLength="9.2" lengthAdjust="spacingAndGlyphs" font-weight="bold">3/18</text>
<line x1="326.4" y1="589.5" x2="326.4" y2="592.5" stroke="#000" stroke-width="0.9"/>
<text transform="translate(322.6,594.8) rotate(90)" font-size="7.8" style="stroke-width:0.4px" textLength="6.6" lengthAdjust="spacingAndGlyphs" font-weight="bold">4/1</text>
<line x1="336.2" y1="589.5" x2="336.2" y2="592.5" stroke="#000" stroke-width="0.9"/>
<text transform="translate(332.4,594.8) rotate(90)" font-size="7.8" style="stroke-width:0.4px" textLength="9.2" lengthAdjust="spacingAndGlyphs" font-weight="bold">4/15</text>
<line x1="346.0" y1="589.5" x2="346.0" y2="592.5" stroke="#000" stroke-width="0.9"/>
<text transform="translate(342.2,594.8) rotate(90)" font-size="7.8" style="stroke-width:0.4px" textLength="9.2" lengthAdjust="spacingAndGlyphs" font-weight="bold">4/29</text>
<line x1="355.9" y1="589.5" x2="355.9" y2="592.5" stroke="#000" stroke-width="0.9"/>
<text transform="translate(352.1,594.8) rotate(90)" font-size="7.8" style="stroke-width:0.4px" textLength="9.2" lengthAdjust="spacingAndGlyphs" font-weight="bold">5/13</text>
<line x1="365.7" y1="589.5" x2="365.7" y2="592.5" stroke="#000" stroke-width="0.9"/>
<text transform="translate(361.9,594.8) rotate(90)" font-size="7.8" style="stroke-width:0.4px" textLength="9.2" lengthAdjust="spacingAndGlyphs" font-weight="bold">5/27</text>
<line x1="375.5" y1="589.5" x2="375.5" y2="592.5" stroke="#000" stroke-width="0.9"/>
<text transform="translate(371.7,594.8) rotate(90)" font-size="7.8" style="stroke-width:0.4px" textLength="9.2" lengthAdjust="spacingAndGlyphs" font-weight="bold">6/10</text>
<line x1="385.4" y1="589.5" x2="385.4" y2="592.5" stroke="#000" stroke-width="0.9"/>
<text transform="translate(381.6,594.8) rotate(90)" font-size="7.8" style="stroke-width:0.4px" textLength="9.2" lengthAdjust="spacingAndGlyphs" font-weight="bold">6/24</text>
<line x1="395.2" y1="589.5" x2="395.2" y2="592.5" stroke="#000" stroke-width="0.9"/>
<text transform="translate(391.4,594.8) rotate(90)" font-size="7.8" style="stroke-width:0.4px" textLength="6.6" lengthAdjust="spacingAndGlyphs" font-weight="bold">7/8</text>
<line x1="405.0" y1="589.5" x2="405.0" y2="592.5" stroke="#000" stroke-width="0.9"/>
<text transform="translate(401.2,594.8) rotate(90)" font-size="7.8" style="stroke-width:0.4px" textLength="9.2" lengthAdjust="spacingAndGlyphs" font-weight="bold">7/22</text>
<line x1="414.9" y1="589.5" x2="414.9" y2="592.5" stroke="#000" stroke-width="0.9"/>
<text transform="translate(411.1,594.8) rotate(90)" font-size="7.8" style="stroke-width:0.4px" textLength="6.6" lengthAdjust="spacingAndGlyphs" font-weight="bold">8/5</text>
<line x1="424.7" y1="589.5" x2="424.7" y2="592.5" stroke="#000" stroke-width="0.9"/>
<text transform="translate(420.9,594.8) rotate(90)" font-size="7.8" style="stroke-width:0.4px" textLength="9.2" lengthAdjust="spacingAndGlyphs" font-weight="bold">8/19</text>
<line x1="434.5" y1="589.5" x2="434.5" y2="592.5" stroke="#000" stroke-width="0.9"/>
<text transform="translate(430.7,594.8) rotate(90)" font-size="7.8" style="stroke-width:0.4px" textLength="6.6" lengthAdjust="spacingAndGlyphs" font-weight="bold">9/2</text>
<line x1="444.4" y1="589.5" x2="444.4" y2="592.5" stroke="#000" stroke-width="0.9"/>
<text transform="translate(440.6,594.8) rotate(90)" font-size="7.8" style="stroke-width:0.4px" textLength="9.2" lengthAdjust="spacingAndGlyphs" font-weight="bold">9/16</text>
<line x1="454.2" y1="589.5" x2="454.2" y2="592.5" stroke="#000" stroke-width="0.9"/>
<text transform="translate(450.4,594.8) rotate(90)" font-size="7.8" style="stroke-width:0.4px" textLength="9.2" lengthAdjust="spacingAndGlyphs" font-weight="bold">9/30</text>
<polyline points="197.6,576.1 198.7,569.9 199.2,571.9 199.7,563.6 200.2,570.9 200.4,554.3 200.8,569.9 201.0,546.0 201.5,569.9 202.3,571.9 203.3,577.6 204.9,579.7 206.4,581.2 208.0,579.2 209.5,577.6 211.1,577.1 212.6,576.1 214.2,578.1 215.2,579.2 216.8,577.6 219.4,577.1 220.9,576.1 223.0,576.1 224.6,574.5 226.1,575.5 227.7,577.1 228.7,574.5 229.7,575.0 231.3,572.4 232.8,573.5 233.9,572.4 234.9,573.0 236.3,568.3 237.0,571.4 238.5,572.4 240.1,570.9 241.6,570.4 243.2,572.4 244.7,569.9 245.8,567.3 247.3,567.8 248.9,568.3 250.4,567.3 252.0,568.8 253.0,569.9 253.5,545.0 254.4,532.1 254.5,532.1 255.0,557.4 255.9,562.6 257.1,567.8 258.1,569.3 259.7,567.3 260.7,569.3 262.3,569.9 263.3,566.7 264.9,569.9 266.9,572.4 268.5,573.5 270.6,570.4 272.1,567.3 274.2,567.3 275.7,566.7 277.3,564.7 278.3,563.6 279.4,555.4 280.7,550.7 282.0,553.3 283.0,560.5 284.6,564.7 285.1,532.6 285.5,531.5 285.9,526.4 286.3,524.3 286.6,536.7 286.9,525.3 287.3,526.4 287.7,538.8 289.2,540.9 290.2,545.0 291.3,554.3 292.8,564.2 294.4,567.3 295.9,562.6 297.5,563.6 299.0,563.1 300.6,562.6 301.6,564.2 303.2,567.3 304.7,562.6 306.3,561.6 307.3,564.7 308.4,566.2 309.4,559.5 310.4,547.6 311.5,547.1 312.5,559.5 313.5,557.4 314.6,548.6 315.6,555.4 316.7,561.6 318.0,555.4 317.1,563.1 318.1,555.4 319.2,548.1 320.2,556.4 321.8,566.2 323.3,561.6 324.4,558.5 325.4,558.5 326.4,564.7 328.0,571.4 329.0,568.8 329.5,519.1 330.4,538.3 331.1,555.4 332.6,556.4 334.7,562.6 336.3,566.7 338.3,569.3 340.4,572.4 342.0,570.4 343.5,572.4 345.1,573.5 346.3,576.1 347.1,570.9 347.5,561.6 347.5,532.6 348.5,532.6 348.5,566.7 349.5,567.8 350.5,568.8 350.5,544.0 350.5,568.8 351.5,567.8 351.9,564.7 352.8,560.5 353.5,560.5 353.5,536.2 353.5,561.6 354.5,561.6 354.5,546.0 355.5,546.0 355.5,557.4 356.5,562.6 358.5,563.6 360.1,569.9 361.1,569.9 361.8,561.6 363.2,566.7 364.7,571.9 366.8,576.1 368.4,575.0 368.9,560.5 369.7,554.3 370.4,560.5 371.0,569.9 371.5,561.6 372.0,570.9 373.0,573.0 375.1,578.1 376.7,577.1 378.0,577.1 378.1,577.6 379.7,578.1 381.2,579.2 382.1,573.0 382.8,569.3 383.5,560.0 383.9,570.9 384.9,577.1 386.4,578.1 388.0,577.1 388.7,575.0 390.1,579.2 391.6,578.1 393.2,579.2 393.7,567.3 394.5,545.0 395.2,561.6 396.3,570.9 397.3,569.3 398.9,574.0 400.4,576.6 400.9,554.3 401.3,567.8 401.8,540.9 402.2,567.8 402.5,517.0 403.0,567.8 403.5,529.5 404.0,568.8 404.6,549.1 405.1,565.7 405.6,538.8 406.1,563.6 407.7,566.7 408.7,571.9 409.2,557.4 409.5,528.9 410.2,549.1 411.1,557.4 411.8,566.7 412.8,569.9 413.9,561.0 414.6,567.8 415.4,560.5 415.9,566.7 417.5,568.8 418.5,572.4 419.6,574.0 420.1,557.4 420.8,557.4 421.4,572.4 423.2,574.5 425.3,576.6 427.3,575.0 429.4,577.1 432.0,576.1 432.5,555.4 433.0,566.7 433.5,550.2 434.1,566.7 434.4,538.3 435.1,565.7 435.6,538.3 436.1,565.7 437.2,575.5 438.0,573.0 437.2,572.4 439.0,577.0 440.7,579.3 442.4,577.0 443.6,568.9 444.4,559.7 445.0,573.5 447.0,577.0 448.7,579.3 450.1,573.5 451.0,570.1 452.7,568.4 453.6,562.0 454.1,572.4 455.0,574.7" fill="none" stroke="#000" stroke-width="1.10" stroke-linejoin="miter"/>
<rect x="255" y="556" width="4" height="4" fill="#000"/>
<rect x="299" y="550" width="4" height="4" fill="#000"/>
<rect x="344" y="549" width="4" height="4" fill="#000"/>
<rect x="408" y="558" width="4" height="4" fill="#000"/>
<rect x="447" y="555" width="4" height="4" fill="#000"/>
<rect x="235" y="533" width="4" height="3" fill="#000"/>
<rect x="319" y="543" width="4" height="3" fill="#000"/>
<rect x="364" y="553" width="4" height="3" fill="#000"/>
<rect x="216" y="553" width="3" height="3" fill="#000"/>
<rect x="383" y="578" width="3" height="3" fill="#000"/>
<rect x="428" y="585" width="3" height="3" fill="#000"/>
<rect x="196" y="508" width="4" height="4" fill="#1a1a1a"/>
<rect x="197" y="509" width="2" height="2" fill="#9a9a9a"/>
<rect x="452" y="509" width="5" height="3" fill="#1a1a1a"/>
<rect x="453" y="510" width="3" height="1" fill="#9a9a9a"/>
<path d="M198.1 573.8L200.1 577.8H196.1Z" fill="#aaa" stroke="#111" stroke-width="1" style="shape-rendering:auto"/>
<path d="M454.5 573.4L456.5 577.4H452.5Z" fill="#aaa" stroke="#111" stroke-width="1" style="shape-rendering:auto"/>
<text x="293.2" y="631.0" font-size="7.0" textLength="11.6" lengthAdjust="spacingAndGlyphs">Date</text>
<text transform="translate(166.0,555.1) rotate(-90)" font-size="7.6" font-weight="bold" style="stroke-width:0.45px" textLength="15.6" lengthAdjust="spacingAndGlyphs">NH4-N</text>
<text transform="translate(166.0,532.3) rotate(-90)" font-size="7.6" textLength="20.7" lengthAdjust="spacingAndGlyphs">[mg/L]</text>
</g>
<text x="91.2" y="663.7" font-size="12.2" textLength="23.3" lengthAdjust="spacingAndGlyphs" class="s" font-weight="bold">Figure</text>
<text x="128.0" y="663.7" font-size="12.2" textLength="14.5" lengthAdjust="spacingAndGlyphs" class="s" font-weight="bold">3.12</text>
<text x="156.3" y="663.7" font-size="12.2" textLength="46.7" lengthAdjust="spacingAndGlyphs" class="s">Comparison</text>
<text x="218.6" y="663.7" font-size="12.2" textLength="7.8" lengthAdjust="spacingAndGlyphs" class="s">of</text>
<text x="230.7" y="663.7" font-size="12.2" textLength="17.8" lengthAdjust="spacingAndGlyphs" class="s">long</text>
<text x="256.7" y="663.7" font-size="12.2" textLength="16.0" lengthAdjust="spacingAndGlyphs" class="s">term</text>
<text x="280.5" y="663.7" font-size="12.2" textLength="49.8" lengthAdjust="spacingAndGlyphs" class="s">(1997-2004)</text>
<text x="343.8" y="663.7" font-size="12.2" textLength="35.6" lengthAdjust="spacingAndGlyphs" class="s">measured</text>
<text x="394.4" y="663.7" font-size="12.2" textLength="19.9" lengthAdjust="spacingAndGlyphs" class="s">mean</text>
<text x="423.9" y="663.7" font-size="12.2" textLength="16.1" lengthAdjust="spacingAndGlyphs" class="s">plus</text>
<text x="446.4" y="663.7" font-size="12.2" textLength="7.8" lengthAdjust="spacingAndGlyphs" class="s">or</text>
<text x="458.8" y="663.7" font-size="12.2" textLength="23.9" lengthAdjust="spacingAndGlyphs" class="s">minus</text>
<text x="492.6" y="663.7" font-size="12.2" textLength="13.2" lengthAdjust="spacingAndGlyphs" class="s">one</text>
<text x="91.1" y="677.3" font-size="12.2" textLength="33.8" lengthAdjust="spacingAndGlyphs" class="s">standard</text>
<text x="134.9" y="677.3" font-size="12.2" textLength="38.1" lengthAdjust="spacingAndGlyphs" class="s">deviation,</text>
<text x="185.5" y="677.3" font-size="12.2" textLength="36.6" lengthAdjust="spacingAndGlyphs" class="s">measured,</text>
<text x="237.8" y="677.3" font-size="12.2" textLength="13.5" lengthAdjust="spacingAndGlyphs" class="s">and</text>
<text x="258.4" y="677.3" font-size="12.2" textLength="37.4" lengthAdjust="spacingAndGlyphs" class="s">simulated</text>
<text x="308.2" y="677.3" font-size="12.2" textLength="25.0" lengthAdjust="spacingAndGlyphs" class="s">hourly</text>
<text x="342.1" y="677.3" font-size="12.2" textLength="42.7" lengthAdjust="spacingAndGlyphs" class="s">ammonium</text>
<text x="400.8" y="677.3" font-size="12.2" textLength="7.8" lengthAdjust="spacingAndGlyphs" class="s">as</text>
<text x="414.0" y="677.3" font-size="12.2" textLength="33.1" lengthAdjust="spacingAndGlyphs" class="s">nitrogen</text>
<text x="457.0" y="677.3" font-size="12.2" textLength="35.3" lengthAdjust="spacingAndGlyphs" class="s">(NH4-N)</text>
<text x="91.1" y="690.9" font-size="12.2" textLength="57.7" lengthAdjust="spacingAndGlyphs" class="s">concentrations</text>
<text x="165.2" y="690.9" font-size="12.2" textLength="7.1" lengthAdjust="spacingAndGlyphs" class="s">at</text>
<text x="175.8" y="690.9" font-size="12.2" textLength="32.8" lengthAdjust="spacingAndGlyphs" class="s">different</text>
<text x="221.1" y="690.9" font-size="12.2" textLength="36.3" lengthAdjust="spacingAndGlyphs" class="s">locations</text>
<text x="268.4" y="690.9" font-size="12.2" textLength="6.1" lengthAdjust="spacingAndGlyphs" class="s">in</text>
<text x="279.8" y="690.9" font-size="12.2" textLength="12.5" lengthAdjust="spacingAndGlyphs" class="s">the</text>
<text x="297.6" y="690.9" font-size="12.2" textLength="32.0" lengthAdjust="spacingAndGlyphs" class="s">Chicago</text>
<text x="341.0" y="690.9" font-size="12.2" textLength="38.4" lengthAdjust="spacingAndGlyphs" class="s">Waterway</text>
<text x="394.7" y="690.9" font-size="12.2" textLength="26.4" lengthAdjust="spacingAndGlyphs" class="s">System</text>
<text x="432.8" y="690.9" font-size="12.2" textLength="11.4" lengthAdjust="spacingAndGlyphs" class="s">for</text>
<text x="449.6" y="690.9" font-size="12.2" textLength="23.5" lengthAdjust="spacingAndGlyphs" class="s">Water</text>
<text x="482.7" y="690.9" font-size="12.2" textLength="17.1" lengthAdjust="spacingAndGlyphs" class="s">Year</text>
<text x="91.1" y="704.8" font-size="12.2" textLength="18.5" lengthAdjust="spacingAndGlyphs" class="s">2003</text>
<text x="304.0" y="731.7" font-size="12.2" textLength="7.8" lengthAdjust="spacingAndGlyphs" class="s">73</text>
</svg></body></html>
